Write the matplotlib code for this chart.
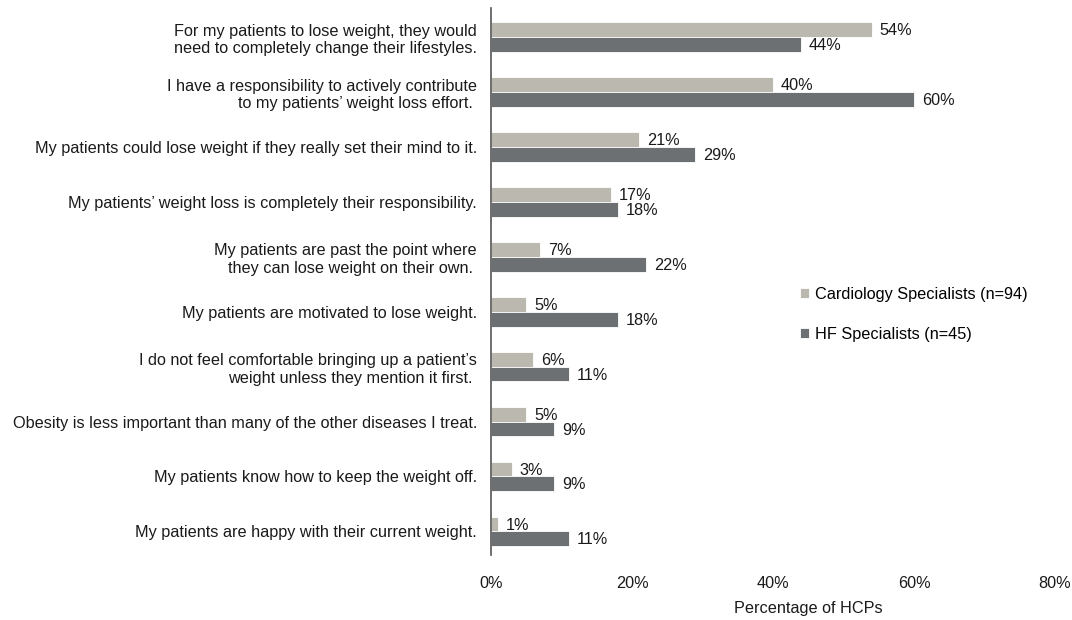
import matplotlib
matplotlib.use('Agg')
import matplotlib.pyplot as plt
import numpy as np

plt.rcParams['font.family'] = ['Liberation Sans', 'DejaVu Sans']

statements = [
    "For my patients to lose weight, they would\nneed to completely change their lifestyles.",
    "I have a responsibility to actively contribute\nto my patients\u2019 weight loss effort. ",
    "My patients could lose weight if they really set their mind to it.",
    "My patients\u2019 weight loss is completely their responsibility.",
    "My patients are past the point where\nthey can lose weight on their own. ",
    "My patients are motivated to lose weight.",
    "I do not feel comfortable bringing up a patient\u2019s\nweight unless they mention it first. ",
    "Obesity is less important than many of the other diseases I treat.",
    "My patients know how to keep the weight off.",
    "My patients are happy with their current weight.",
]
cardio = [54, 40, 21, 17, 7, 5, 6, 5, 3, 1]
hf = [44, 60, 29, 18, 22, 18, 11, 9, 9, 11]
series_names = ["Cardiology Specialists (n=94)", "HF Specialists (n=45)"]
xticks = [0, 20, 40, 60, 80]

LIGHT = '#BBB8B0'
DARK = '#6D7073'
FS = 11.7

fig = plt.figure(figsize=(10.72, 6.2), dpi=100)
ax = fig.add_axes([491 / 1072, 65 / 620, 564 / 1072, 547 / 620])

y = np.arange(len(statements))
h = 0.27
b1 = ax.barh(y - h / 2, cardio, height=h, color=LIGHT, edgecolor='white',
             linewidth=0.6, label=series_names[0])
b2 = ax.barh(y + h / 2, hf, height=h, color=DARK, edgecolor='white',
             linewidth=0.6, label=series_names[1])

for bars, vals in ((b1, cardio), (b2, hf)):
    for bar, v in zip(bars, vals):
        ax.text(v + 1.1, bar.get_y() + bar.get_height() / 2 + 0.02, f"{v}%",
                ha='left', va='center', fontsize=FS, color='#1a1a1a')

ax.set_xlim(0, 80)
ax.set_ylim(9.43, -0.53)
ax.set_xticks(xticks)
ax.set_xticklabels([f"{t}%" for t in xticks], fontsize=FS, color='#1a1a1a')
ax.set_yticks(y)
ax.set_yticklabels(statements, fontsize=FS, color='#1a1a1a', ha='right')
ax.tick_params(axis='x', length=0, pad=15)
ax.tick_params(axis='y', length=0, pad=10)

for s in ('top', 'right', 'bottom'):
    ax.spines[s].set_visible(False)
ax.spines['left'].set_color('#555555')
ax.spines['left'].set_linewidth(1.2)

ax.set_xlabel("Percentage of HCPs", fontsize=FS, color='#1a1a1a')
ax.xaxis.set_label_coords(0.562, -0.085)

ax.legend(loc='center left', bbox_to_anchor=(0.522, 0.44), frameon=False,
          fontsize=FS, handlelength=0.55, handleheight=0.55, handletextpad=0.4,
          labelspacing=1.5)

fig.savefig('out.png', dpi=100, facecolor='white')
